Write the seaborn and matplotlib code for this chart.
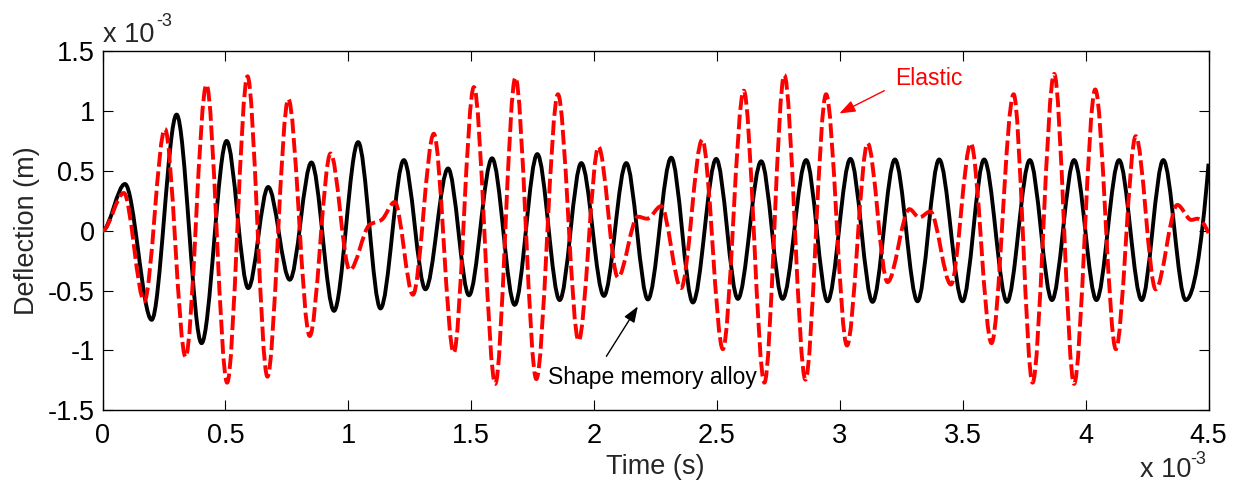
import numpy as np
import pandas as pd
import matplotlib
matplotlib.use("Agg")
import matplotlib.pyplot as plt
import seaborn as sns
from matplotlib.path import Path
from matplotlib.patches import PathPatch

# ---- data (time in units of 1e-3 s, deflection in units of 1e-3 m) ----
sma_time = [0, 0.0915, 0.200, 0.3015, 0.403, 0.505, 0.593, 0.674, 0.762, 0.850,
            0.942, 1.040, 1.131, 1.226, 1.314, 1.406, 1.491, 1.585, 1.677, 1.769,
            1.860, 1.948, 2.040, 2.131, 2.219, 2.314, 2.402, 2.497, 2.585, 2.680,
            2.767, 2.863, 2.950, 3.043, 3.133, 3.224, 3.316, 3.404, 3.499, 3.587,
            3.680, 3.773, 3.863, 3.953, 4.044, 4.136, 4.228, 4.316, 4.407, 4.5]
sma_defl = [0, 0.39, -0.745, 0.97, -0.94, 0.75, -0.48, 0.365, -0.41, 0.57,
            -0.67, 0.74, -0.65, 0.59, -0.49, 0.52, -0.54, 0.605, -0.62, 0.64,
            -0.58, 0.565, -0.545, 0.565, -0.575, 0.61, -0.60, 0.60, -0.57, 0.58,
            -0.57, 0.59, -0.59, 0.60, -0.595, 0.595, -0.59, 0.595, -0.59, 0.595,
            -0.595, 0.59, -0.58, 0.59, -0.58, 0.59, -0.58, 0.59, -0.58, 0.56]

elastic_time = [0, 0.087, 0.170, 0.254, 0.338, 0.423, 0.507, 0.590, 0.671, 0.756,
                0.843, 0.928, 1.006, 1.087, 1.135, 1.189, 1.263, 1.348, 1.429, 1.511,
                1.598, 1.680, 1.765, 1.853, 1.937, 2.018, 2.097, 2.178, 2.216, 2.273,
                2.354, 2.440, 2.524, 2.609, 2.693, 2.774, 2.860, 2.944, 3.029, 3.113,
                3.194, 3.283, 3.323, 3.368, 3.452, 3.533, 3.617, 3.707, 3.784, 3.872,
                3.953, 4.039, 4.123, 4.204, 4.285, 4.373, 4.430, 4.455, 4.5]
elastic_defl = [0, 0.315, -0.59, 0.85, -1.055, 1.22, -1.27, 1.29, -1.22, 1.10,
                -0.88, 0.645, -0.33, 0.05, 0.09, 0.24, -0.535, 0.81, -1.02, 1.20,
                -1.28, 1.28, -1.24, 1.14, -0.92, 0.70, -0.39, 0.117, 0.10, 0.205,
                -0.48, 0.76, -0.99, 1.17, -1.27, 1.30, -1.245, 1.14, -0.96, 0.73,
                -0.43, 0.18, 0.11, 0.16, -0.45, 0.73, -0.94, 1.14, -1.27, 1.31,
                -1.28, 1.18, -0.99, 0.79, -0.49, 0.215, 0.09, 0.10, -0.02]

x_ticks = [0, 0.5, 1, 1.5, 2, 2.5, 3, 3.5, 4, 4.5]
x_tick_labels = ["0", "0.5", "1", "1.5", "2", "2.5", "3", "3.5", "4", "4.5"]
y_ticks = [-1.5, -1, -0.5, 0, 0.5, 1, 1.5]
y_tick_labels = ["-1.5", "-1", "-0.5", "0", "0.5", "1", "1.5"]


def smooth_path(x, y):
    """Monotone cubic (PCHIP-type) curve through the given points, as a Bezier path."""
    x = np.asarray(x, float)
    y = np.asarray(y, float)
    h = np.diff(x)
    d = np.diff(y) / h
    n = len(x)
    m = np.zeros(n)
    for k in range(1, n - 1):
        if d[k - 1] * d[k] > 0:
            w1 = 2 * h[k] + h[k - 1]
            w2 = h[k] + 2 * h[k - 1]
            m[k] = (w1 + w2) / (w1 / d[k - 1] + w2 / d[k])
    me = ((2 * h[-1] + h[-2]) * d[-1] - h[-1] * d[-2]) / (h[-1] + h[-2])
    if np.sign(me) != np.sign(d[-1]):
        me = 0.0
    elif np.sign(d[-1]) != np.sign(d[-2]) and abs(me) > 3 * abs(d[-1]):
        me = 3 * d[-1]
    m[-1] = me
    verts = [(x[0], y[0])]
    codes = [Path.MOVETO]
    for k in range(n - 1):
        verts += [(x[k] + h[k] / 3, y[k] + m[k] * h[k] / 3),
                  (x[k + 1] - h[k] / 3, y[k + 1] - m[k + 1] * h[k] / 3),
                  (x[k + 1], y[k + 1])]
        codes += [Path.CURVE4] * 3
    return Path(verts, codes)


sns.set_theme(style="ticks")
plt.rcParams['font.family'] = ['Liberation Sans', 'DejaVu Sans']

fig = plt.figure(figsize=(12.38, 4.86), dpi=100)
ax = fig.add_axes([0.0828, 0.156, 0.8934, 0.7387])

df_sma = pd.DataFrame({"time": sma_time, "defl": sma_defl})
df_el = pd.DataFrame({"time": elastic_time, "defl": elastic_defl})

styles = [
    (df_sma, "black", "-", 2),
    (df_el, "#ff0000", (0, (3.8, 1.2)), 3),
]
for df, color, ls, z in styles:
    sns.lineplot(data=df, x="time", y="defl", color=color, ax=ax,
                 estimator=None, sort=False, legend=False)
    line = ax.lines[-1]
    xd, yd = line.get_xdata(), line.get_ydata()
    line.remove()
    patch = PathPatch(smooth_path(xd, yd), facecolor="none", edgecolor=color,
                      lw=2.8, linestyle=ls, capstyle="butt", joinstyle="round",
                      zorder=z)
    ax.add_patch(patch)

ax.set_xlim(0, 4.5)
ax.set_ylim(-1.5, 1.5)
ax.set_xticks(x_ticks)
ax.set_xticklabels(x_tick_labels)
ax.set_yticks(y_ticks)
ax.set_yticklabels(y_tick_labels)
ax.tick_params(direction="in", length=7, width=0.8, top=True, right=True,
               labelsize=19.5, colors="black")
ax.tick_params(axis="x", pad=9)
ax.tick_params(axis="y", pad=5.5)
for sp in ax.spines.values():
    sp.set_visible(True)
    sp.set_color("black")
    sp.set_linewidth(1.0)

ax.set_xlabel("Time (s)", fontsize=19.5, labelpad=4)
ax.set_ylabel("Deflection (m)", fontsize=19.5, labelpad=6)

# exponent labels
fig.text(103 / 1238, 1 - 42 / 486, "x 10", fontsize=19.5, ha="left", va="baseline")
fig.text(156 / 1238, 1 - 26 / 486, "-3", fontsize=13, ha="left", va="baseline")
fig.text(1140 / 1238, 1 - 477 / 486, "x 10", fontsize=19.5, ha="left", va="baseline")
fig.text(1190 / 1238, 1 - 464 / 486, "-3", fontsize=13, ha="left", va="baseline")

# annotations
ax.annotate("", xy=(2.998, 0.98), xytext=(3.181, 1.17),
            arrowprops=dict(arrowstyle="-|>,head_length=0.8,head_width=0.3",
                            color="#ff0000", lw=1.0, shrinkA=0, shrinkB=0))
ax.text(3.226, 1.22, "Elastic", color="#ff0000", fontsize=16.5,
        ha="left", va="baseline")
ax.annotate("", xy=(2.178, -0.633), xytext=(2.050, -1.05),
            arrowprops=dict(arrowstyle="-|>,head_length=0.8,head_width=0.3",
                            color="black", lw=1.0, shrinkA=0, shrinkB=0))
ax.text(1.811, -1.278, "Shape memory alloy", color="black", fontsize=16.5,
        ha="left", va="baseline", zorder=5)

fig.savefig("out.png", dpi=100)
